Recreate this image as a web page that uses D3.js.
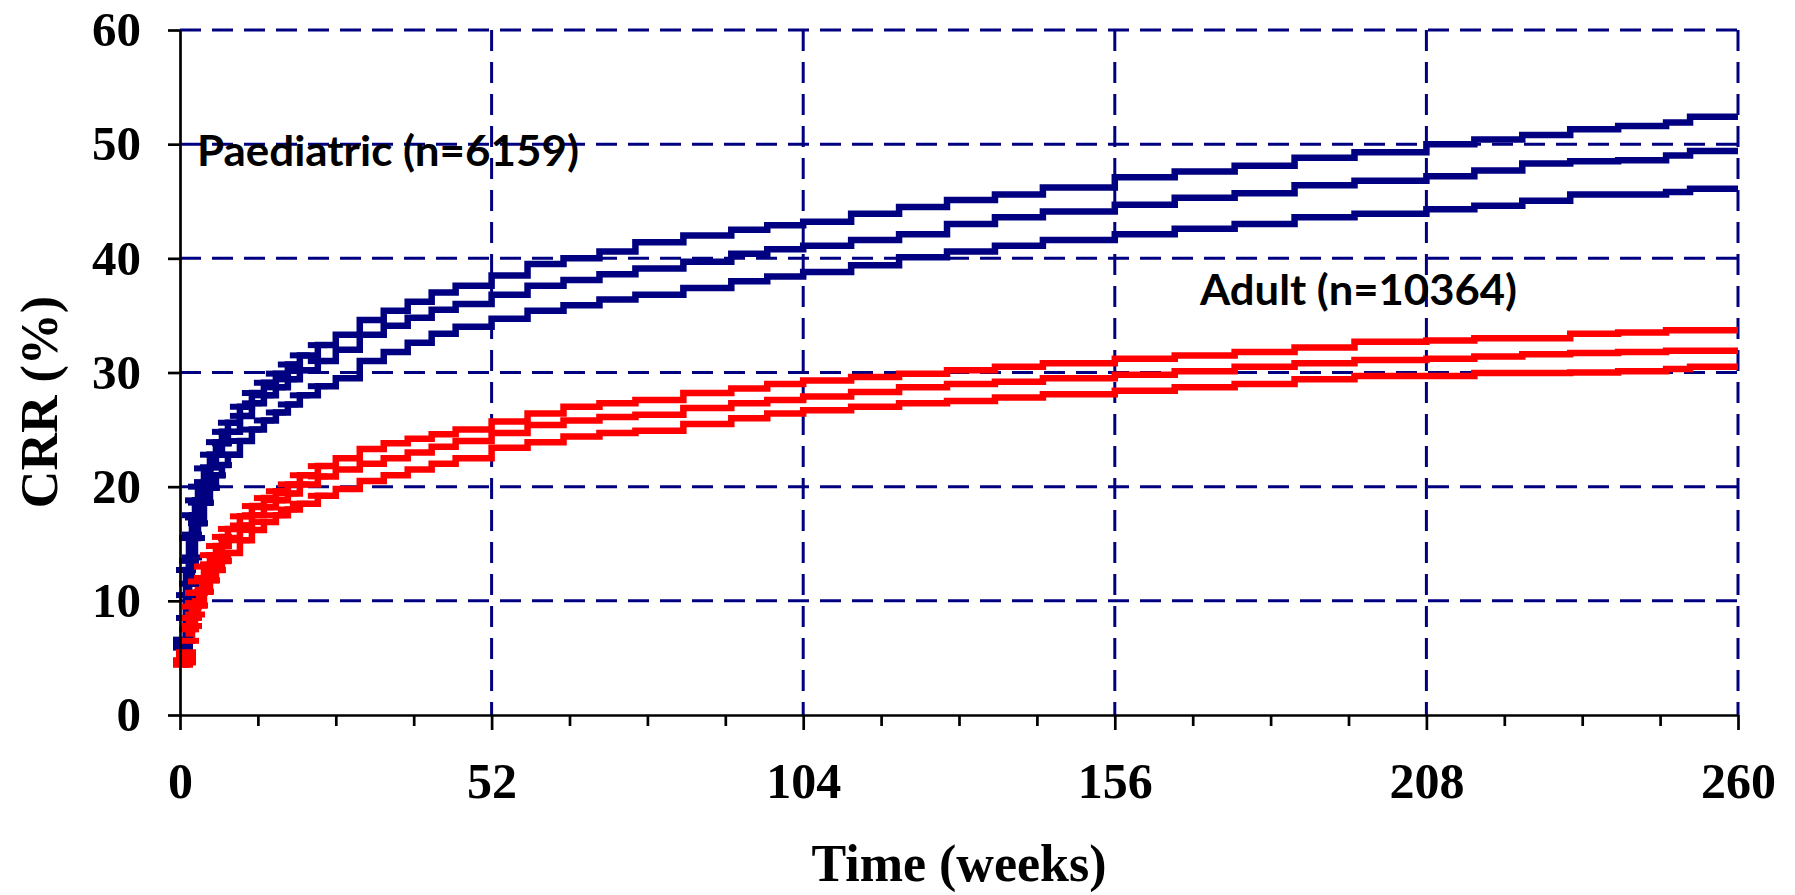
<!DOCTYPE html>
<html>
<head>
<meta charset="utf-8">
<script src="https://cdn.jsdelivr.net/npm/d3@7/dist/d3.min.js"></script>
<style>
    body { margin: 0; background: #ffffff; }
</style>
</head>
<body>
<div id="chart-area"></div>
<script>

// time points (weeks) shared by all curves
let weeks = [0.5, 1, 1.5, 2, 2.5, 3, 4, 5, 6, 7, 8, 10, 12, 14, 16, 18, 20, 23, 26, 30, 34, 38, 42, 46,
    52, 58, 64, 70, 76, 84, 92, 98, 104, 112, 120, 128, 136, 144, 156, 166, 176, 186, 196,
    208, 216, 224, 232, 240, 248, 252, 260];

// Paediatric CRR (%) - upper CI, estimate, lower CI
let paedUpper = [6.6, 12.7, 15.5, 17.5, 18.8, 20, 21.6, 22.8, 23.9, 24.8, 25.6, 27, 28.2, 29.1, 29.9, 30.7, 31.5, 32.4, 33.3, 34.6, 35.4, 36.2, 37, 37.6,
    38.5, 39.5, 40, 40.6, 41.4, 42, 42.5, 42.9, 43.2, 43.9, 44.5, 45.1, 45.6, 46.2, 47.1, 47.6, 48.1, 48.8, 49.3,
    50, 50.4, 50.8, 51.3, 51.6, 51.9, 52.4, 52.4];
let paedMid = [6.2, 10.5, 13.5, 15.8, 17.3, 18.6, 20.4, 21.7, 22.8, 23.8, 24.8, 26.2, 27.3, 28, 28.7, 29.4, 30.2, 31, 32, 33.3, 34.1, 34.8, 35.5, 36,
    36.8, 37.6, 38.1, 38.6, 39.1, 39.7, 40.4, 40.8, 41.1, 41.6, 42.1, 43, 43.6, 44.1, 44.7, 45.3, 45.7, 46.4, 46.8,
    47.2, 47.7, 48.3, 48.5, 48.6, 49, 49.4, 49.4];
let paedLower = [5.9, 8.5, 11.5, 13.8, 15.5, 16.8, 18.6, 19.9, 21, 21.9, 22.8, 24, 25, 25.8, 26.5, 27.2, 28, 28.8, 29.5, 31, 31.8, 32.6, 33.4, 34,
    34.7, 35.4, 35.9, 36.4, 36.8, 37.4, 38, 38.4, 38.8, 39.4, 40.1, 40.6, 41.1, 41.6, 42.1, 42.6, 43, 43.6, 43.9,
    44.3, 44.6, 45.05, 45.6, 45.6, 45.8, 46.1, 46.1];

// Adult CRR (%) - upper CI, estimate, lower CI
let adultUpper = [4.8, 5.5, 8.5, 9.5, 10.7, 11.7, 13, 14, 14.8, 15.6, 16.3, 17.4, 18.3, 19, 19.6, 20.2, 21, 21.8, 22.5, 23.3, 23.8, 24.2, 24.6, 25,
    25.7, 26.4, 27, 27.3, 27.6, 28.2, 28.6, 29, 29.3, 29.6, 29.9, 30.2, 30.5, 30.8, 31.2, 31.5, 31.8, 32.2, 32.7,
    32.8, 33, 33, 33.4, 33.5, 33.7, 33.7, 33.7];
let adultMid = [4.6, 5, 7.5, 8.5, 9.8, 10.7, 12, 13.2, 14, 14.8, 15.5, 16.6, 17.5, 18.2, 18.8, 19.4, 20.2, 20.9, 21.5, 22, 22.5, 23, 23.5, 24,
    24.7, 25.4, 25.8, 26.1, 26.3, 26.9, 27.3, 27.6, 27.9, 28.3, 28.7, 29, 29.2, 29.5, 29.8, 30.1, 30.5, 30.8, 31.1,
    31.2, 31.4, 31.6, 31.7, 31.8, 31.9, 31.9, 31.9];
let adultLower = [4.4, 4.6, 6.5, 7.8, 8.8, 9.6, 10.8, 11.8, 12.7, 13.5, 14.2, 15.3, 16.2, 16.9, 17.5, 18, 18.5, 19.2, 19.8, 20.5, 21, 21.5, 22, 22.5,
    23.4, 23.9, 24.4, 24.7, 24.9, 25.5, 26, 26.4, 26.7, 27, 27.3, 27.5, 27.8, 28.1, 28.4, 28.7, 29, 29.4, 29.7,
    29.7, 29.95, 29.95, 30, 30.1, 30.3, 30.5, 30.5];

let yTicks = [0, 10, 20, 30, 40, 50, 60];
let xTicks = [0, 52, 104, 156, 208, 260];
let xMinorTicks = [13, 26, 39, 65, 78, 91, 117, 130, 143, 169, 182, 195, 221, 234, 247];


class CRRChart {

    constructor(parentElement) {
        this.parentElement = parentElement;
        this.series = [
            {key: "paedUpper", values: paedUpper, color: "#000080"},
            {key: "paedMid", values: paedMid, color: "#000080"},
            {key: "paedLower", values: paedLower, color: "#000080"},
            {key: "adultUpper", values: adultUpper, color: "#ff0000"},
            {key: "adultMid", values: adultMid, color: "#ff0000"},
            {key: "adultLower", values: adultLower, color: "#ff0000"}
        ];
        this.initVis();
    }

    initVis() {
        let vis = this;

        vis.margin = {top: 30, right: 57, bottom: 180, left: 180};
        vis.width = 1795 - vis.margin.left - vis.margin.right;
        vis.height = 895 - vis.margin.top - vis.margin.bottom;

        vis.svg = d3.select("#" + vis.parentElement).append("svg")
            .attr("width", 1795)
            .attr("height", 895)
            .append("g")
            .attr("transform", "translate(" + vis.margin.left + "," + vis.margin.top + ")");

        vis.x = d3.scaleLinear().domain([0, 260]).range([0, vis.width]);
        vis.y = d3.scaleLinear().domain([0, 60]).range([vis.height, 0]);

        // dashed grid
        vis.svg.append("g").selectAll("line")
            .data(yTicks.filter(d => d > 0))
            .enter().append("line")
            .attr("x1", 0).attr("x2", vis.width)
            .attr("y1", d => vis.y(d)).attr("y2", d => vis.y(d))
            .style("stroke", "#000080").style("stroke-width", 3)
            .style("stroke-dasharray", "21,11");

        vis.svg.append("g").selectAll("line")
            .data(xTicks.filter(d => d > 0))
            .enter().append("line")
            .attr("x1", d => vis.x(d)).attr("x2", d => vis.x(d))
            .attr("y1", vis.y(60)).attr("y2", vis.height)
            .style("stroke", "#000080").style("stroke-width", 3)
            .style("stroke-dasharray", "21,11");

        // step curves
        vis.line = d3.line()
            .x((d, i) => vis.x(weeks[i]))
            .y(d => vis.y(d))
            .curve(d3.curveStepAfter);

        vis.svg.selectAll(".crr-line")
            .data(vis.series)
            .enter().append("path")
            .attr("class", "crr-line")
            .attr("d", d => vis.line(d.values))
            .style("fill", "none")
            .style("stroke", d => d.color)
            .style("stroke-width", 6.5);

        // horizontal censor marks on the early part
        vis.series.forEach(s => {
            vis.svg.append("g").selectAll("line")
                .data(s.values.map((v, i) => ({w: weeks[i], v: v})).filter(d => d.w <= 23))
                .enter().append("line")
                .attr("x1", d => vis.x(d.w) - 10).attr("x2", d => vis.x(d.w) + 10)
                .attr("y1", d => vis.y(d.v)).attr("y2", d => vis.y(d.v))
                .style("stroke", s.color).style("stroke-width", 6);
        });

        // axes
        vis.yAxis = d3.axisLeft(vis.y)
            .tickValues(yTicks)
            .tickSize(12)
            .tickSizeOuter(0)
            .tickPadding(27);

        vis.svg.append("g")
            .attr("class", "y-axis")
            .call(vis.yAxis)
            .call(g => g.select(".domain").style("stroke-width", 2.7))
            .call(g => g.selectAll(".tick line").style("stroke-width", 2.7))
            .call(g => g.selectAll("text")
                .style("font-family", "'Liberation Serif', 'Times New Roman', serif")
                .style("font-weight", "bold")
                .style("font-size", "49px")
                .style("fill", "#000"));

        vis.svg.append("g")
            .attr("class", "x-axis-minor")
            .attr("transform", "translate(0," + vis.height + ")")
            .call(d3.axisBottom(vis.x).tickValues(xMinorTicks).tickSize(11).tickFormat(""))
            .call(g => g.select(".domain").remove())
            .call(g => g.selectAll(".tick line").style("stroke-width", 2.7));

        vis.xAxis = d3.axisBottom(vis.x)
            .tickValues(xTicks)
            .tickSize(15)
            .tickSizeOuter(0)
            .tickPadding(32);

        vis.svg.append("g")
            .attr("class", "x-axis")
            .attr("transform", "translate(0," + vis.height + ")")
            .call(vis.xAxis)
            .call(g => g.select(".domain").style("stroke-width", 2.7))
            .call(g => g.selectAll(".tick line").style("stroke-width", 2.7))
            .call(g => g.selectAll("text")
                .style("font-family", "'Liberation Serif', 'Times New Roman', serif")
                .style("font-weight", "bold")
                .style("font-size", "50px")
                .style("fill", "#000"));

        // axis titles
        vis.svg.append("text")
            .attr("text-anchor", "middle")
            .attr("x", vis.width / 2)
            .attr("y", 851)
            .text("Time (weeks)")
            .style("font-family", "'Liberation Serif', 'Times New Roman', serif")
            .style("font-weight", "bold")
            .style("font-size", "52px");

        vis.svg.append("text")
            .attr("text-anchor", "middle")
            .attr("transform", "translate(" + (57 - vis.margin.left) + "," + (402 - vis.margin.top) + ") rotate(-90)")
            .text("CRR (%)")
            .style("font-family", "'Liberation Serif', 'Times New Roman', serif")
            .style("font-weight", "bold")
            .style("font-size", "52px");

        // group labels
        vis.svg.append("text")
            .attr("x", 197 - vis.margin.left)
            .attr("y", 166 - vis.margin.top)
            .attr("textLength", 382)
            .attr("lengthAdjust", "spacingAndGlyphs")
            .text("Paediatric (n=6159)")
            .style("font-family", "Lato, 'Open Sans', sans-serif")
            .style("font-weight", "bold")
            .style("font-size", "42px");

        vis.svg.append("text")
            .attr("x", 1200 - vis.margin.left)
            .attr("y", 305 - vis.margin.top)
            .attr("textLength", 317)
            .attr("lengthAdjust", "spacingAndGlyphs")
            .text("Adult (n=10364)")
            .style("font-family", "Lato, 'Open Sans', sans-serif")
            .style("font-weight", "bold")
            .style("font-size", "42px");
    }
}

let crrChart = new CRRChart("chart-area");

</script>
</body>
</html>
